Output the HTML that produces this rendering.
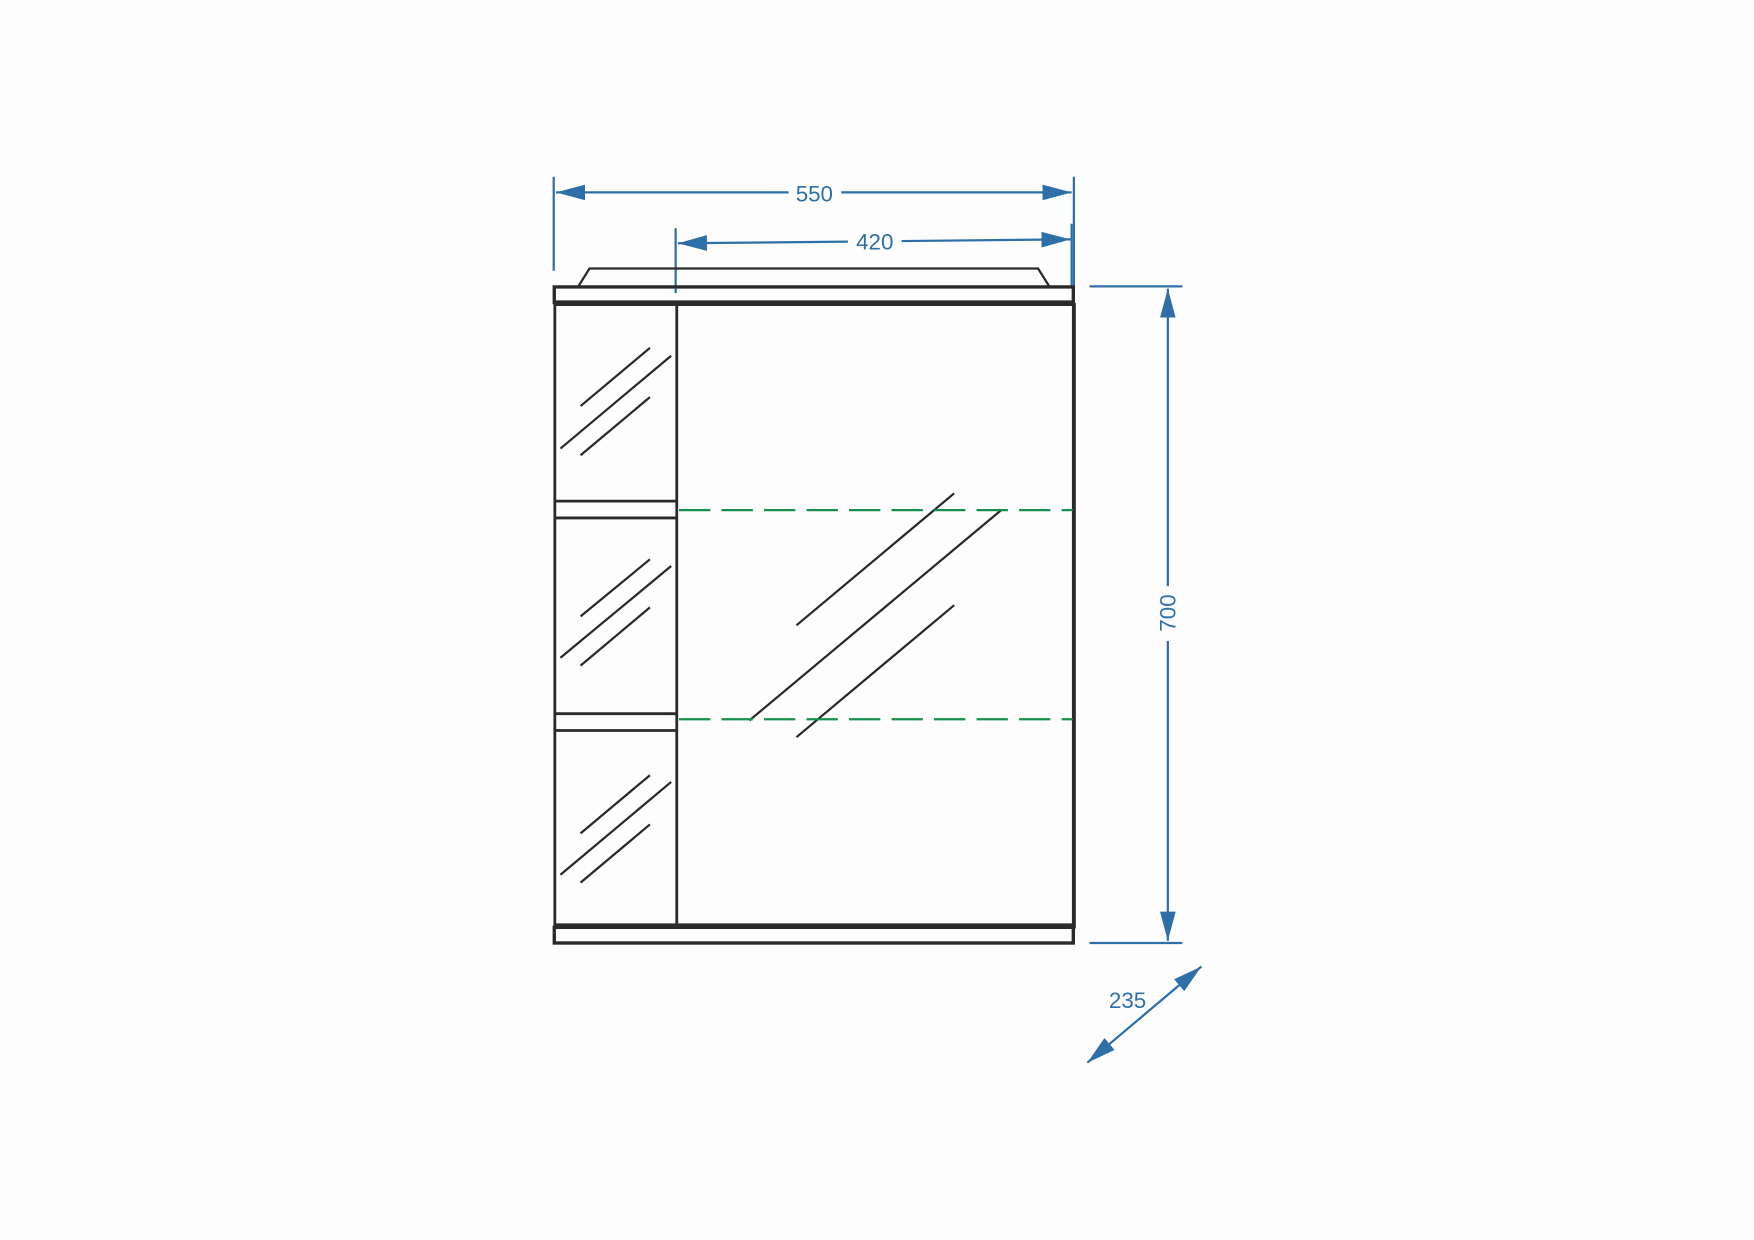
<!DOCTYPE html>
<html><head><meta charset="utf-8"><style>
html,body{margin:0;padding:0;background:#fdfdfd;}
svg{display:block;}
text{font-family:"Liberation Sans",sans-serif;fill:#2f6fa8;}
</style></head><body>
<svg width="1754" height="1240" viewBox="0 0 1568 1108.5" xmlns="http://www.w3.org/2000/svg">
<rect width="1568" height="1108.5" fill="#fdfdfd"/>
<defs>
<marker id="a" viewBox="0 0 10 10" refX="10" refY="5" markerWidth="26" markerHeight="14" markerUnits="userSpaceOnUse" orient="auto-start-reverse" preserveAspectRatio="none"><path d="M0,0 L10,5 L0,10 Z" fill="#2f6fa8"/></marker>
</defs>
<g stroke="#2f6fa8" stroke-width="2" fill="none">
<!-- 550 -->
<line x1="495" y1="158" x2="495" y2="242"/>
<line x1="960" y1="158" x2="960" y2="256"/>
<line x1="497" y1="172" x2="705" y2="172" marker-start="url(#a)"/>
<line x1="752" y1="172" x2="958" y2="172" marker-end="url(#a)"/>
<!-- 420 -->
<line x1="604" y1="204" x2="604" y2="262"/>
<line x1="958" y1="200" x2="958" y2="256"/>
<line x1="606" y1="217.5" x2="758" y2="216" marker-start="url(#a)"/>
<line x1="806" y1="215.5" x2="957" y2="214" marker-end="url(#a)"/>
<!-- 700 -->
<line x1="974" y1="256" x2="1057" y2="256"/>
<line x1="974" y1="843" x2="1057" y2="843"/>
<line x1="1044" y1="258" x2="1044" y2="524" marker-start="url(#a)"/>
<line x1="1044" y1="573" x2="1044" y2="841" marker-end="url(#a)"/>
<!-- 235 -->
<line x1="972" y1="950" x2="1074" y2="864" marker-start="url(#a)" marker-end="url(#a)"/>
</g>
<text x="728" y="180" font-size="20" text-anchor="middle">550</text>
<text x="782" y="223" font-size="20" text-anchor="middle">420</text>
<text x="1008" y="901" font-size="20" text-anchor="middle">235</text>
<text x="0" y="0" font-size="20" text-anchor="middle" transform="translate(1051,548) rotate(-90)">700</text>
<g stroke="#2a2a2a" fill="none">
<!-- ledge -->
<path d="M517,256 L527,240 L928,240 L938,256" stroke-width="2"/>
<!-- top plate -->
<rect x="495.5" y="256.5" width="464" height="14" stroke-width="3"/>
<line x1="495" y1="271" x2="961" y2="271" stroke-width="5"/>
<!-- body -->
<line x1="496" y1="271" x2="496" y2="830" stroke-width="2.5"/>
<line x1="960" y1="271" x2="960" y2="830" stroke-width="3.5"/>
<line x1="605" y1="272" x2="605" y2="828" stroke-width="2.5"/>
<line x1="495" y1="828" x2="961" y2="828" stroke-width="5"/>
<rect x="495.5" y="829" width="464" height="14" stroke-width="3"/>
<!-- shelves -->
<line x1="496" y1="448" x2="605" y2="448" stroke-width="2.5"/>
<line x1="496" y1="463" x2="605" y2="463" stroke-width="2.5"/>
<line x1="496" y1="638" x2="605" y2="638" stroke-width="2.5"/>
<line x1="496" y1="653" x2="605" y2="653" stroke-width="2.5"/>
<!-- reflections -->
<g stroke-width="2">
<line x1="519" y1="363" x2="581" y2="311"/><line x1="501" y1="401" x2="600" y2="318"/><line x1="519" y1="407" x2="581" y2="355"/>
<line x1="519" y1="551" x2="581" y2="500"/><line x1="501" y1="588" x2="600" y2="506"/><line x1="519" y1="595" x2="581" y2="543"/>
<line x1="519" y1="745" x2="581" y2="693"/><line x1="501" y1="782" x2="600" y2="699"/><line x1="519" y1="789" x2="581" y2="737"/>
<line x1="712" y1="559" x2="853" y2="441"/><line x1="670" y1="644" x2="895" y2="456"/><line x1="712" y1="659" x2="853" y2="541"/>
</g>
</g>
<g stroke="#16904a" stroke-width="2" stroke-dasharray="28,10">
<line x1="607" y1="456" x2="959" y2="456"/>
<line x1="607" y1="643" x2="959" y2="643"/>
</g>
</svg>
</body></html>
